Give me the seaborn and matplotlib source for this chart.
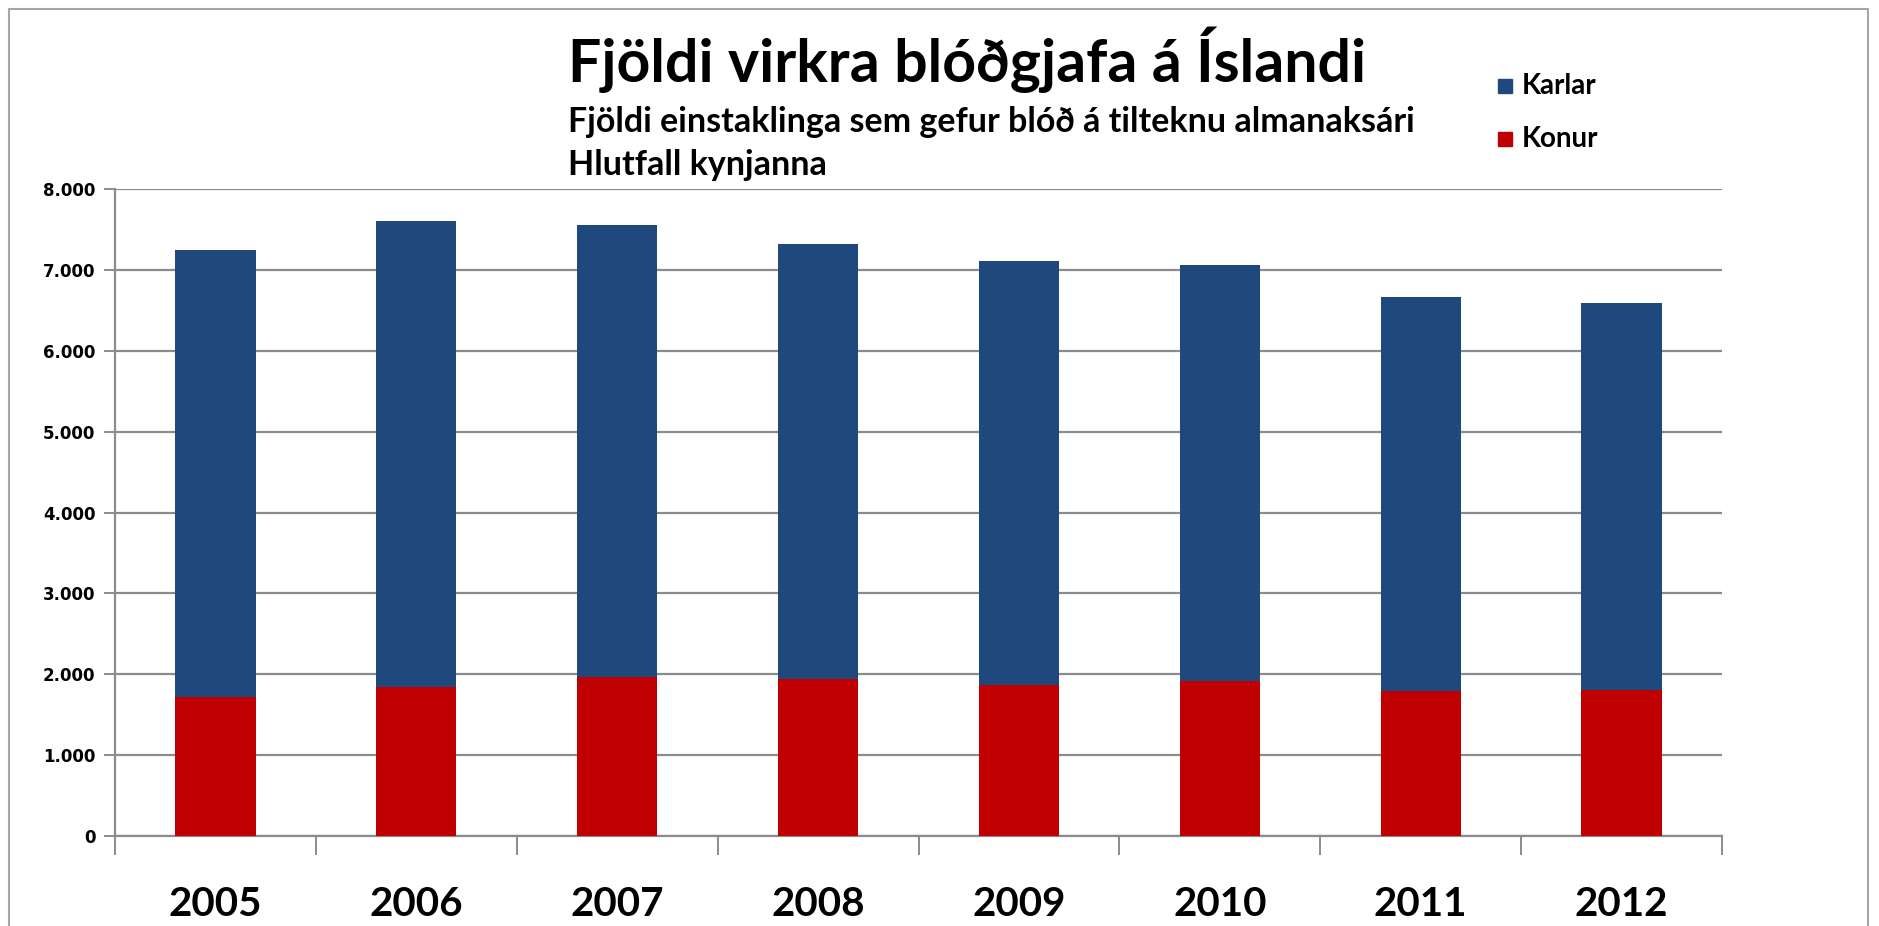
import numpy as np
import pandas as pd
import seaborn as sns
import matplotlib

matplotlib.use('Agg')
import matplotlib.pyplot as plt
from matplotlib.patches import Rectangle

# gögn lesin af myndinni
ar = ['2005', '2006', '2007', '2008', '2009', '2010', '2011', '2012']
konur = [1720, 1840, 1965, 1940, 1865, 1915, 1790, 1810]
karlar = [5530, 5760, 5585, 5380, 5245, 5145, 4870, 4780]
y_ticks = [0, 1000, 2000, 3000, 4000, 5000, 6000, 7000, 8000]
y_labels = ['0', '1.000', '2.000', '3.000', '4.000', '5.000', '6.000', '7.000', '8.000']

df = pd.DataFrame({'ar': ar, 'Konur': konur, 'Karlar': karlar})
df['Alls'] = df['Konur'] + df['Karlar']

blue = '#1F497D'
red = '#C00000'
grid_c = '#8C8C8C'

sns.set_style('white')
plt.rcParams['font.family'] = ['Lato', 'DejaVu Sans']
plt.rcParams['text.color'] = 'black'
plt.rcParams['xtick.labelcolor'] = 'black'
plt.rcParams['ytick.labelcolor'] = 'black'

fig = plt.figure(figsize=(18.79, 9.26), dpi=100)
ax = fig.add_axes([115 / 1879, 1 - 836 / 926, (1722 - 115) / 1879, (836 - 189) / 926])

# staflað: heildin í bláu, konur í rauðu yfir
sns.barplot(data=df, x='ar', y='Alls', color=blue, width=0.4, saturation=1, linewidth=0, ax=ax, zorder=3)
sns.barplot(data=df, x='ar', y='Konur', color=red, width=0.4, saturation=1, linewidth=0, ax=ax, zorder=4)

ax.set_xlim(-0.5, len(ar) - 0.5)
ax.set_ylim(0, 8000)
ax.set_yticks(y_ticks)
ax.set_yticklabels(y_labels, fontfamily='DejaVu Sans', fontweight='bold', fontsize=12)
ax.set_xlabel('')
ax.set_ylabel('')
ax.yaxis.grid(True, color=grid_c, linewidth=1.6, zorder=0)
ax.set_axisbelow(True)

for s in ['top', 'right']:
    ax.spines[s].set_visible(False)
for s in ['left', 'bottom']:
    ax.spines[s].set_color(grid_c)
    ax.spines[s].set_linewidth(1.6)

ax.tick_params(axis='y', which='major', length=8, width=1.4, color=grid_c, direction='out', pad=6, left=True)
# ticks milli flokka
ax.set_xticks(np.arange(-0.5, len(ar)), minor=True)
ax.tick_params(axis='x', which='minor', length=14, width=1.4, color=grid_c, direction='out', bottom=True)
ax.tick_params(axis='x', which='major', length=0, pad=36)
for lbl in ax.get_xticklabels():
    lbl.set_fontsize(29)
    lbl.set_fontweight('bold')

# titlar
fig.text(807 / 1568, 1 - 50 / 773, 'Fjöldi virkra blóðgjafa á Íslandi', ha='center', va='center',
         fontsize=42.5, fontweight='bold')
fig.text(474 / 1568, 1 - 102 / 773, 'Fjöldi einstaklinga sem gefur blóð á tilteknu almanaksári',
         ha='left', va='center', fontsize=24.5, fontweight='bold')
fig.text(474 / 1568, 1 - 138 / 773, 'Hlutfall kynjanna',
         ha='left', va='center', fontsize=24.5, fontweight='bold')

# skýringar
for name, col, yy in [('Karlar', blue, 72), ('Konur', red, 116)]:
    fig.patches.append(Rectangle((1250 / 1568, 1 - (yy + 6) / 773), 12 / 1568, 12 / 773,
                                 transform=fig.transFigure, color=col))
    fig.text(1270 / 1568, 1 - yy / 773, name, ha='left', va='center', fontsize=20, fontweight='bold')

# rammi um myndina
fig.patches.append(Rectangle((9 / 1879, -0.02), 1 - 20 / 1879, 1 - 9 / 926 + 0.02,
                             transform=fig.transFigure, fill=False, edgecolor='#A6A6A6', linewidth=1.5))

fig.savefig('out.png', dpi=100)
